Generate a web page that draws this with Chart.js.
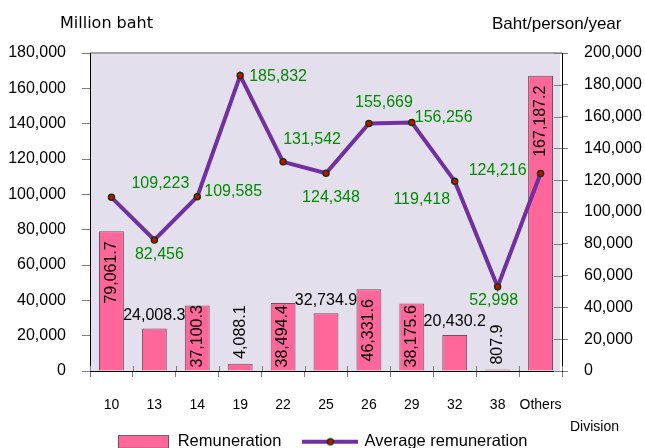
<!DOCTYPE html>
<html><head><meta charset="utf-8">
<script src="https://cdn.jsdelivr.net/npm/chart.js@4.4.0/dist/chart.umd.min.js"></script>
<style>html,body{margin:0;padding:0;overflow:hidden;background:#fff;} #wrap{width:645px;height:460px;}</style>
</head><body><div id="wrap"><canvas id="c" width="645" height="460"></canvas></div>
<script>
// ---- data ----
const divisions = ['10','13','14','19','22','25','26','29','32','38','Others'];
const remuneration = [79061.7, 24008.3, 37100.3, 4088.1, 38494.4, 32734.9, 46331.6, 38175.6, 20430.2, 807.9, 167187.2];
const avgRemuneration = [109223, 82456, 109585, 185832, 131542, 124348, 155669, 156256, 119418, 52998, 124216];
const leftAxisMax = 180000;
const rightAxisMax = 200000;
const tickStep = 20000;
const seriesNames = ['Remuneration', 'Average remuneration'];

// ---- label placement (style only) ----
const barLabelModes = ['in','above','in','vertical','in','above','in','in','above','vertical','in'];
const lineLabelOffsets = [[20,-14,'left'],[5,15,'center'],[7,-5,'left'],[9,1,'left'],[29,-22,'center'],[5,24,'center'],[15,-21,'center'],[3,-5,'left'],[-33,18,'center'],[-4,14,'center'],[-14,-3,'right']];

const PINK = '#FF6699', BAR_BORDER = '#6E5060', PURPLE = '#7030A0', GREEN = '#008C00';
const FONT = '"Liberation Sans", Arial, sans-serif';

const fmt1 = v => v.toLocaleString('en-US', {minimumFractionDigits:1, maximumFractionDigits:1});
const fmt0 = v => v.toLocaleString('en-US', {maximumFractionDigits:0});

// legend symbols
function makeBoxImg(){
  const c = document.createElement('canvas'); c.width = 51; c.height = 14;
  const g = c.getContext('2d'); g.fillStyle = PINK; g.fillRect(0,0,51,14);
  g.strokeStyle = BAR_BORDER; g.lineWidth = 1; g.strokeRect(0.5,0.5,50,13); return c;
}
function makeLineImg(){
  const c = document.createElement('canvas'); c.width = 56; c.height = 10;
  const g = c.getContext('2d'); g.strokeStyle = PURPLE; g.lineWidth = 4;
  g.beginPath(); g.moveTo(0,5); g.lineTo(56,5); g.stroke();
  g.beginPath(); g.arc(28,5,3,0,Math.PI*2); g.fillStyle='#E00000'; g.fill();
  g.lineWidth=1.5; g.strokeStyle='#0B3D0B'; g.stroke(); return c;
}
const boxImg = makeBoxImg(), lineImg = makeLineImg();

const bgPlugin = {
  id:'bg',
  beforeDraw(chart){
    const {ctx, chartArea:a} = chart;
    ctx.save();
    ctx.fillStyle = '#E4DFEC';
    ctx.fillRect(a.left, a.top, a.right - a.left - 2, a.bottom - a.top);
    ctx.strokeStyle = '#A6A6A6'; ctx.lineWidth = 2;
    ctx.beginPath(); ctx.moveTo(a.left, a.top); ctx.lineTo(a.right, a.top); ctx.stroke();
    ctx.restore();
  },
  afterDraw(chart){
    const {ctx, chartArea:a} = chart;
    ctx.save();
    // inner tick marks (crossing ticks)
    ctx.strokeStyle = '#808080'; ctx.lineWidth = 1;
    const xs = chart.scales.x, n = divisions.length;
    for(let i=0;i<=n;i++){
      const px = Math.round(xs.left + i*(xs.width/n)) + 0.5;
      ctx.beginPath(); ctx.moveTo(px, a.bottom - 5); ctx.lineTo(px, a.bottom); ctx.stroke();
    }
    const y2 = chart.scales.y2;
    y2.ticks.forEach(t=>{
      const py = Math.round(y2.getPixelForValue(t.value)) + 0.5;
      ctx.beginPath(); ctx.moveTo(a.right - 8, py); ctx.lineTo(a.right, py); ctx.stroke();
    });
    // titles
    ctx.fillStyle = '#000'; ctx.textBaseline = 'middle';
    ctx.font = '16px "DejaVu Sans", sans-serif'; ctx.textAlign = 'left';
    ctx.fillText('Million baht', 60, 24);
    ctx.font = '17px ' + FONT;
    ctx.fillText('Baht/person/year', 492, 24);
    ctx.font = '14px ' + FONT;
    ctx.fillText('Division', 570, 427);
    ctx.restore();
  }
};

const labelPlugin = {
  id:'vlabels',
  afterDatasetsDraw(chart){
    const ctx = chart.ctx;
    ctx.save();
    ctx.font = '16px ' + FONT;
    ctx.fillStyle = '#000';
    chart.getDatasetMeta(0).data.forEach((bar,i)=>{
      const txt = fmt1(remuneration[i]);
      const w = ctx.measureText(txt).width;
      const {x, y, base} = bar.getProps(['x','y','base'], true);
      const mode = barLabelModes[i];
      if(mode === 'in'){
        const end = Math.min(y + 10, base - w - 3);
        ctx.save(); ctx.translate(x, end); ctx.rotate(-Math.PI/2);
        ctx.textAlign = 'right'; ctx.textBaseline = 'middle'; ctx.fillText(txt, 0, 0); ctx.restore();
      } else if(mode === 'vertical'){
        ctx.save(); ctx.translate(x, y - 5); ctx.rotate(-Math.PI/2);
        ctx.textAlign = 'left'; ctx.textBaseline = 'middle'; ctx.fillText(txt, 0, 0); ctx.restore();
      } else {
        ctx.textAlign = 'center'; ctx.textBaseline = 'middle'; ctx.fillText(txt, x, y - 13);
      }
    });
    ctx.fillStyle = GREEN;
    ctx.textBaseline = 'middle';
    chart.getDatasetMeta(1).data.forEach((pt,i)=>{
      const [dx, dy, al] = lineLabelOffsets[i];
      ctx.textAlign = al;
      ctx.fillText(fmt0(avgRemuneration[i]), pt.x + dx, pt.y + dy);
    });
    ctx.restore();
  }
};

const LEGEND_PAD = 23;

new Chart(document.getElementById('c'), {
  data: {
    labels: divisions,
    datasets: [
      { type:'bar', label: seriesNames[0], data: remuneration, yAxisID:'y', order: 1,
        backgroundColor: PINK, borderColor: BAR_BORDER, borderWidth: 1,
        categoryPercentage: 1, barPercentage: 0.58 },
      { type:'line', label: seriesNames[1], data: avgRemuneration, yAxisID:'y2', order: 0,
        borderColor: PURPLE, borderWidth: 4, tension: 0,
        pointRadius: 3, pointBorderWidth: 1.5, pointBorderColor: '#0B3D0B', pointBackgroundColor: '#E00000' }
    ]
  },
  options: {
    responsive: false, animation: false,
    layout: { padding: { top: 53, left: 0, right: 0, bottom: 0 } },
    plugins: {
      tooltip: { enabled: false },
      legend: {
        position: 'bottom',
        labels: {
          usePointStyle: true, pointStyleWidth: 52, padding: LEGEND_PAD,
          color: '#000', font: { family: FONT, size: 16.5 },
          generateLabels: () => [
            { text: seriesNames[0], pointStyle: boxImg, fillStyle: PINK, strokeStyle: BAR_BORDER, lineWidth: 0, hidden: false, datasetIndex: 0 },
            { text: seriesNames[1], pointStyle: lineImg, fillStyle: PURPLE, strokeStyle: PURPLE, lineWidth: 0, hidden: false, datasetIndex: 1 }
          ]
        }
      }
    },
    scales: {
      x: {
        offset: true,
        grid: { drawOnChartArea: false, drawTicks: true, tickLength: 6, color: '#808080', offset: true },
        border: { color: '#000', width: 1 },
        ticks: { color: '#000', font: { family: FONT, size: 14 }, padding: 20, maxRotation: 0, autoSkip: false },
        afterFit: s => { s.height = 62.5 - LEGEND_PAD; }
      },
      y: {
        position: 'left', min: 0, max: leftAxisMax,
        grid: { drawOnChartArea: false, tickLength: 8, color: '#808080' },
        border: { color: '#000', width: 1 },
        ticks: { stepSize: tickStep, color: '#000', font: { family: FONT, size: 16 }, padding: 16,
                 callback: v => fmt0(v) },
        afterFit: s => { s.width = 90; }
      },
      y2: {
        position: 'right', min: 0, max: rightAxisMax,
        grid: { drawOnChartArea: false, tickLength: 6, color: '#808080' },
        border: { color: '#000', width: 1 },
        ticks: { stepSize: tickStep, color: '#000', font: { family: FONT, size: 16 }, padding: 16,
                 callback: v => fmt0(v) },
        afterFit: s => { s.width = 83; }
      }
    }
  },
  plugins: [bgPlugin, labelPlugin]
});
</script>
</body></html>
